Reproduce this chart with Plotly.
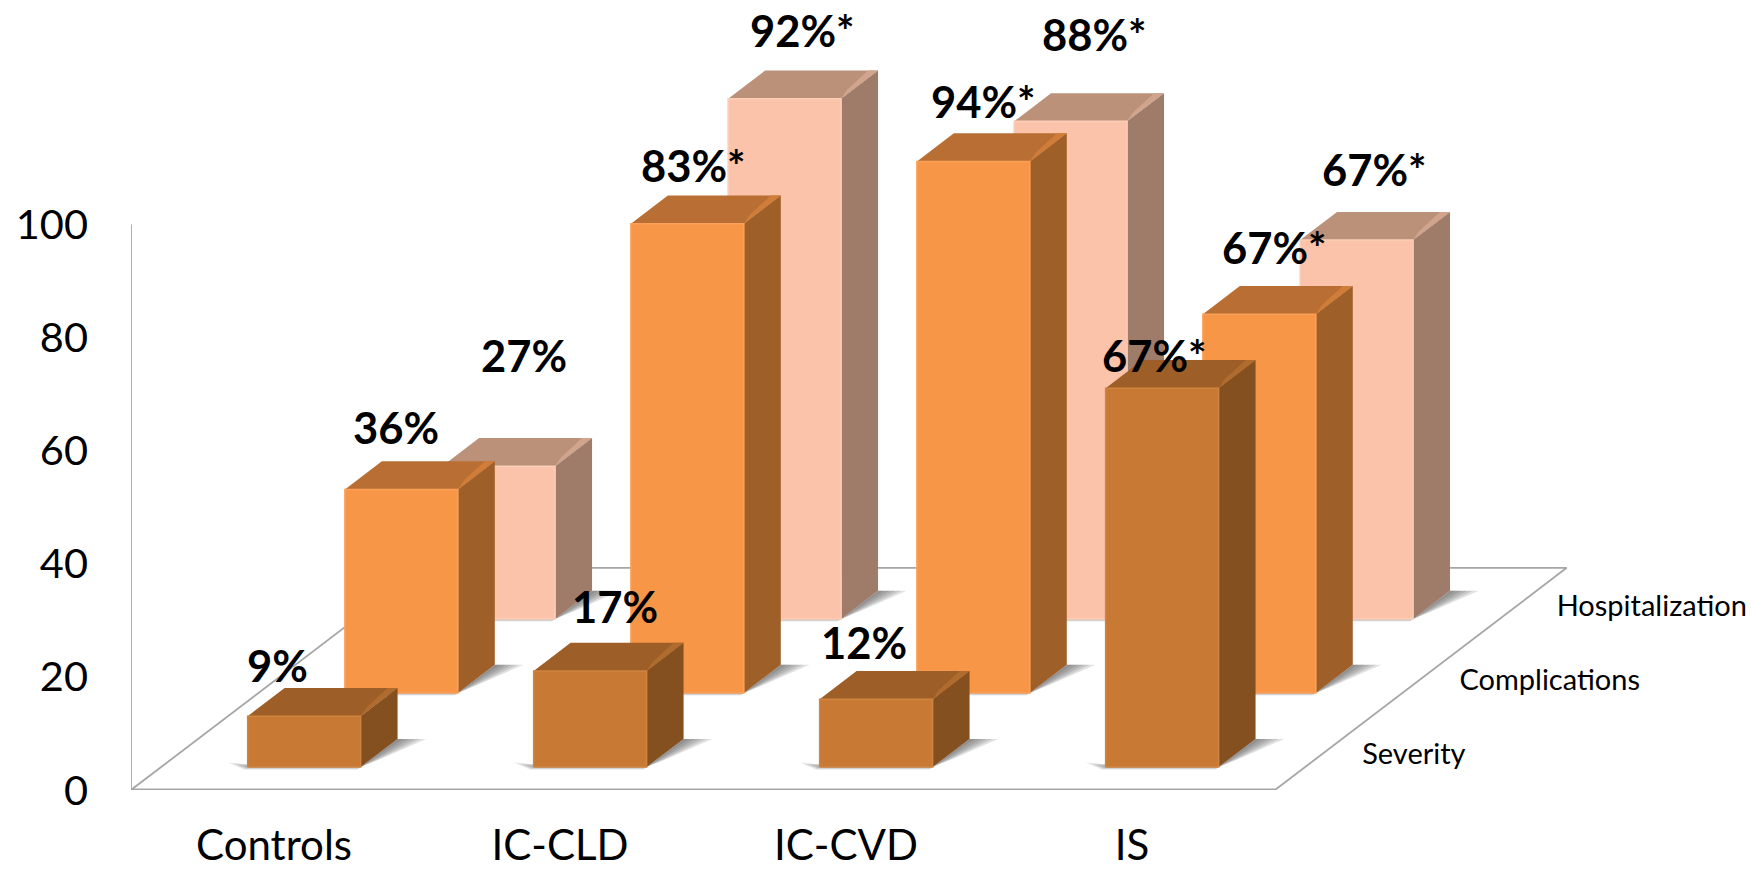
import plotly.graph_objects as go

categories = ["Controls", "IC-CLD", "IC-CVD", "IS"]
series_names = ["Severity", "Complications", "Hospitalization"]
severity = [9, 17, 12, 67]
complications = [36, 83, 94, 67]
hospitalization = [27, 92, 88, 67]
series_values = [severity, complications, hospitalization]
# Values flagged with an asterisk in their label
flagged = [
    [False, False, False, True],
    [False, True, True, True],
    [False, True, True, True],
]
value_ticks = [0, 20, 40, 60, 80, 100]

# Oblique projection: one series step moves this far along x (categories) and y (value units)
DEPTH_X = 0.34
DEPTH_V = 13.1
BAR_W = 0.395
BAR_D = 0.38

FONT = "Lato, Carlito, Calibri, sans-serif"
FLOOR_LINE = "#a6a6a6"

# front, top, side, front rim, top highlight for each series
palette = [
    dict(front="#c87a35", top="#9e5e27", side="#84501f", rim="#d08440", hi="#b06c2e"),
    dict(front="#f79646", top="#b96f33", side="#9f5f29", rim="#fba05a", hi="#cf7d38"),
    dict(front="#fbc3a9", top="#bc917a", side="#9f7b69", rim="#fdceb8", hi="#d0a48d"),
]

# Pixel offsets of each value label from the centre of its bar's top face
label_shift = [
    [(-45, 37), (6, 51), (-31, 43), (-26, 19)],
    [(-24, 48), (-12, 45), (-8, 46), (-3, 53)],
    [(7, 97), (-1, 55), (5, 73), (-1, 57)],
]


def project(c, s, v):
    return c + s * DEPTH_X, v + s * DEPTH_V


def polygons(rings):
    xs, ys = [], []
    for ring in rings:
        pts = [project(*p) for p in ring]
        pts.append(pts[0])
        xs += [p[0] for p in pts] + [None]
        ys += [p[1] for p in pts] + [None]
    return xs, ys


def face(rings, fill, line=None, width=0):
    xs, ys = polygons(rings)
    return go.Scatter(
        x=xs, y=ys, mode="lines", fill="toself", fillcolor=fill,
        line=dict(color=line or fill, width=width),
        hoverinfo="skip", showlegend=False, cliponaxis=False,
    )


fig = go.Figure()

# Floor outline and the value-axis line
n_c, n_s = len(categories), len(series_names)
xs, ys = polygons([[(0, 0, 0), (n_c, 0, 0), (n_c, n_s, 0), (0, n_s, 0)]])
fig.add_trace(go.Scatter(x=xs, y=ys, mode="lines", line=dict(color=FLOOR_LINE, width=1.8),
                         hoverinfo="skip", showlegend=False, cliponaxis=False))
fig.add_trace(go.Scatter(x=[0, 0], y=[0, value_ticks[-1]], mode="lines",
                         line=dict(color=FLOOR_LINE, width=1.8),
                         hoverinfo="skip", showlegend=False, cliponaxis=False))
fig.add_trace(go.Scatter(x=[0, n_c], y=[0, 0], mode="lines",
                         line=dict(color=FLOOR_LINE, width=3),
                         hoverinfo="skip", showlegend=False, cliponaxis=False))


def bounds(ci, si):
    c0 = ci + 0.5 - BAR_W / 2
    s0 = si + 0.5 - BAR_D / 2
    return c0, c0 + BAR_W, s0, s0 + BAR_D


# Soft shadows on the floor, built up from translucent layers
for si in range(n_s):
    for step in range(1, 6):
        e = 0.02 * step
        right, left = [], []
        for ci in range(n_c):
            c0, c1, s0, s1 = bounds(ci, si)
            right.append([(c1, s0, 0), (c1 + e * 0.3, s0 + 0.1, 0), (c1 + e, s1, 0), (c1, s1, 0)])
            left.append([(c0 - e * 0.9, s0 + 0.012 * step, 0), (c0, s0 + 0.035, 0),
                         (c1, s0 + 0.035, 0), (c1, s0 - 0.007 * step, 0), (c0, s0 - 0.007 * step, 0)])
        fig.add_trace(face(right, "rgba(80,80,80,0.17)"))
        fig.add_trace(face(left, "rgba(80,80,80,0.11)"))

# Bars, drawn from the back series to the front one
for si in reversed(range(n_s)):
    col = palette[si]
    fronts, tops, sides, highlights = [], [], [], []
    for ci, v in enumerate(series_values[si]):
        c0, c1, s0, s1 = bounds(ci, si)
        fronts.append([(c0, s0, 0), (c1, s0, 0), (c1, s0, v), (c0, s0, v)])
        tops.append([(c0, s0, v), (c1, s0, v), (c1, s1, v), (c0, s1, v)])
        sides.append([(c1, s0, 0), (c1, s1, 0), (c1, s1, v), (c1, s0, v)])
        highlights.append([(c1, s0, v), (c1, s1, v), (c1 - 0.035, s1, v), (c1 - 0.02, s0 + 0.12, v)])
    fig.add_trace(face(sides, col["side"]))
    fig.add_trace(face(tops, col["top"]))
    fig.add_trace(face(highlights, col["hi"]))
    fig.add_trace(face(fronts, col["front"], col["rim"], 1.5))

# Depth-axis names beside the floor's right edge
fig.add_trace(go.Scatter(
    x=[project(n_c + 0.135, si + 0.5, 0)[0] for si in range(n_s)],
    y=[project(n_c, si + 0.5, 0)[1] - 0.7 for si in range(n_s)],
    text=series_names, mode="text", textposition="middle right",
    textfont=dict(family=FONT, size=29, color="#000000"),
    hoverinfo="skip", showlegend=False, cliponaxis=False,
))

# Value labels
annotations = []
for si in range(n_s):
    for ci, v in enumerate(series_values[si]):
        x, y = project(ci + 0.5, si + 0.5, v)
        dx, dy = label_shift[si][ci]
        annotations.append(dict(
            x=x, y=y, xshift=dx, yshift=dy, showarrow=False,
            text=f"<b>{v}%{'*' if flagged[si][ci] else ''}</b>",
            font=dict(family=FONT, size=43.5, color="#000000"),
            xanchor="center", yanchor="middle",
        ))

fig.update_layout(
    width=1752, height=870,
    margin=dict(l=131, r=0, t=0, b=80),
    paper_bgcolor="white", plot_bgcolor="white",
    showlegend=False, annotations=annotations,
    xaxis=dict(
        range=[0, 5.668], showgrid=False, zeroline=False, showline=False, ticks="",
        tickmode="array", tickvals=[i + 0.5 for i in range(n_c)], ticktext=categories,
        tickfont=dict(family=FONT, size=42, color="#000000"),
        ticklabelstandoff=27, fixedrange=True, automargin=False,
    ),
    yaxis=dict(
        range=[0, 139.72], showgrid=False, zeroline=False, showline=False, ticks="",
        tickmode="array", tickvals=value_ticks, ticktext=[str(t) for t in value_ticks],
        tickfont=dict(family=FONT, size=41.5, color="#000000"),
        ticklabelstandoff=42, fixedrange=True, automargin=False,
    ),
)

fig.write_html("out.html", config={"displayModeBar": False})
